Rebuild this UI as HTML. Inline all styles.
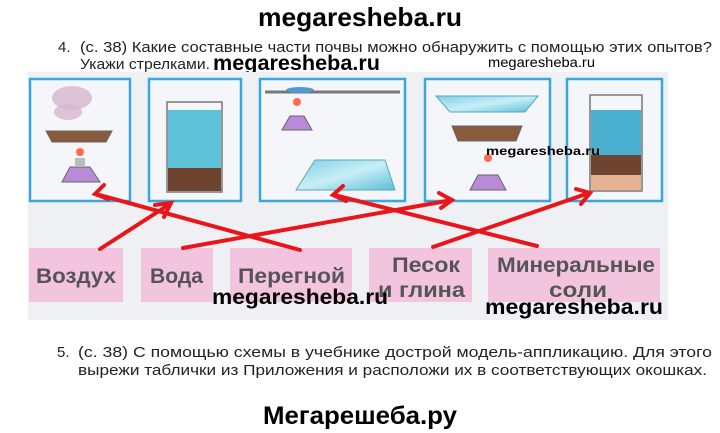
<!DOCTYPE html>
<html><head><meta charset="utf-8"><style>
html,body{margin:0;padding:0;background:#fff;width:720px;height:433px;overflow:hidden}
svg{display:block}
text{font-family:"Liberation Sans",sans-serif}
</style></head><body>
<svg width="720" height="433" viewBox="0 0 720 433" xmlns="http://www.w3.org/2000/svg">
<defs>
<linearGradient id="glass" x1="0" y1="0" x2="1" y2="1"><stop offset="0" stop-color="#7fd0e4"/><stop offset="0.5" stop-color="#c8eef6"/><stop offset="1" stop-color="#5dbfd8"/></linearGradient>
</defs>
<rect width="720" height="433" fill="#fff"/>
<text x="258" y="26" font-size="26" font-weight="bold" textLength="204" lengthAdjust="spacingAndGlyphs">megaresheba.ru</text>
<text x="58" y="52" font-size="15" fill="#222">4.</text>
<text x="80" y="52" font-size="15" fill="#222" textLength="632" lengthAdjust="spacingAndGlyphs">(с. 38) Какие составные части почвы можно обнаружить с помощью этих опытов?</text>
<text x="80" y="69" font-size="15" fill="#222" textLength="130" lengthAdjust="spacingAndGlyphs">Укажи стрелками.</text>
<text x="213" y="70" font-size="21" font-weight="bold" textLength="167" lengthAdjust="spacingAndGlyphs">megaresheba.ru</text>
<text x="488" y="67" font-size="14" textLength="107" lengthAdjust="spacingAndGlyphs">megaresheba.ru</text>

<rect x="28" y="72" width="640" height="248" fill="#eef0f3"/>
<g fill="#f4f6f9" stroke="#3aa6dc" stroke-width="2.5">
<rect x="30" y="79" width="100" height="122"/>
<rect x="149" y="79" width="92" height="122"/>
<rect x="260" y="79" width="145" height="122"/>
<rect x="425" y="79" width="125" height="122"/>
<rect x="567" y="79" width="95" height="122"/>
</g>
<!-- box1 -->
<ellipse cx="72" cy="98" rx="20" ry="12" fill="#d7b7cc" opacity="0.8"/>
<ellipse cx="68" cy="112" rx="14" ry="8" fill="#d7b7cc" opacity="0.8"/>
<path d="M46 131 L112 131 L106 142 L52 142 Z" fill="#8a5a3e" stroke="#666"/>
<circle cx="80" cy="152" r="4" fill="#ff6a50"/>
<path d="M70 167 L90 167 L100 182 L62 182 Z" fill="#b98ad8" stroke="#666"/>
<rect x="75" y="158" width="10" height="9" fill="#bbb"/>
<!-- box2 -->
<rect x="167" y="102" width="55" height="90" fill="none" stroke="#777" stroke-width="1.5"/>
<rect x="168" y="110" width="53" height="60" fill="#5ec3d8"/>
<rect x="168" y="168" width="53" height="23" fill="#6e4330"/>
<!-- box3 -->
<line x1="265" y1="92" x2="400" y2="92" stroke="#777" stroke-width="3"/>
<ellipse cx="300" cy="90" rx="14" ry="3" fill="#4f9bd0"/>
<circle cx="297" cy="102" r="4" fill="#ff6a50"/>
<path d="M290 116 L304 116 L312 130 L282 130 Z" fill="#b98ad8" stroke="#666"/>
<path d="M315 160 L385 160 L395 190 L296 190 Z" fill="url(#glass)" stroke="#5ab"/>
<!-- box4 -->
<path d="M436 96 L538 96 L525 112 L450 112 Z" fill="url(#glass)" stroke="#5ab"/>
<path d="M452 126 L522 126 L516 141 L458 141 Z" fill="#8a5a3e" stroke="#666"/>
<circle cx="488" cy="158" r="4" fill="#ff6a50"/>
<path d="M478 175 L498 175 L506 190 L470 190 Z" fill="#b98ad8" stroke="#666"/>
<!-- box5 -->
<rect x="590" y="95" width="52" height="96" fill="none" stroke="#777" stroke-width="1.5"/>
<rect x="591" y="110" width="50" height="45" fill="#4bb0cf"/>
<rect x="591" y="155" width="50" height="20" fill="#6e4330"/>
<rect x="591" y="175" width="50" height="15" fill="#e5b394"/>

<g fill="#f2c4de">
<rect x="29" y="248" width="94" height="54"/>
<rect x="141" y="248" width="72" height="54"/>
<rect x="230" y="248" width="122" height="54"/>
<rect x="369" y="248" width="103" height="54"/>
<rect x="488" y="248" width="172" height="54"/>
</g>
<g font-size="21" font-weight="bold" fill="#555" lengthAdjust="spacingAndGlyphs">
<text x="36" y="283" textLength="80" lengthAdjust="spacingAndGlyphs">Воздух</text>
<text x="150" y="283" textLength="53" lengthAdjust="spacingAndGlyphs">Вода</text>
<text x="238" y="283" textLength="107" lengthAdjust="spacingAndGlyphs">Перегной</text>
<text x="392" y="272" textLength="68" lengthAdjust="spacingAndGlyphs">Песок</text>
<text x="378" y="297" textLength="87" lengthAdjust="spacingAndGlyphs">и  глина</text>
<text x="497" y="272" textLength="158" lengthAdjust="spacingAndGlyphs">Минеральные</text>
<text x="549" y="297" textLength="58" lengthAdjust="spacingAndGlyphs">соли</text>
</g>

<g stroke="#e8161b" stroke-width="4" fill="none" stroke-linecap="round">
<line x1="100" y1="249" x2="170" y2="204"/>
<polyline points="155,205 171,203 164,217"/>
<line x1="300" y1="250" x2="96" y2="194"/>
<polyline points="104,185 95,194 108,199"/>
<line x1="183" y1="248" x2="452" y2="200"/>
<polyline points="439,193 452,200 441,208"/>
<line x1="537" y1="246" x2="334" y2="195"/>
<polyline points="343,186 333,195 346,201"/>
<line x1="433" y1="247" x2="589" y2="193"/>
<polyline points="576,189 590,193 581,204"/>
</g>

<g font-weight="bold" fill="#000">
<text x="212" y="304" font-size="21" textLength="176" lengthAdjust="spacingAndGlyphs">megaresheba.ru</text>
<text x="485" y="314" font-size="21" textLength="178" lengthAdjust="spacingAndGlyphs">megaresheba.ru</text>
<text x="486" y="155" font-size="12" textLength="114" lengthAdjust="spacingAndGlyphs">megaresheba.ru</text>
</g>

<text x="57" y="357" font-size="15" fill="#222">5.</text>
<text x="78" y="357" font-size="15" fill="#222" textLength="634" lengthAdjust="spacingAndGlyphs">(с. 38) С помощью схемы в учебнике дострой модель-аппликацию. Для этого</text>
<text x="78" y="375" font-size="15" fill="#222" textLength="629" lengthAdjust="spacingAndGlyphs">вырежи таблички из Приложения и расположи их в соответствующих окошках.</text>
<text x="263" y="424" font-size="25" font-weight="bold" textLength="194" lengthAdjust="spacingAndGlyphs">Мегарешеба.ру</text>
</svg>
</body></html>
